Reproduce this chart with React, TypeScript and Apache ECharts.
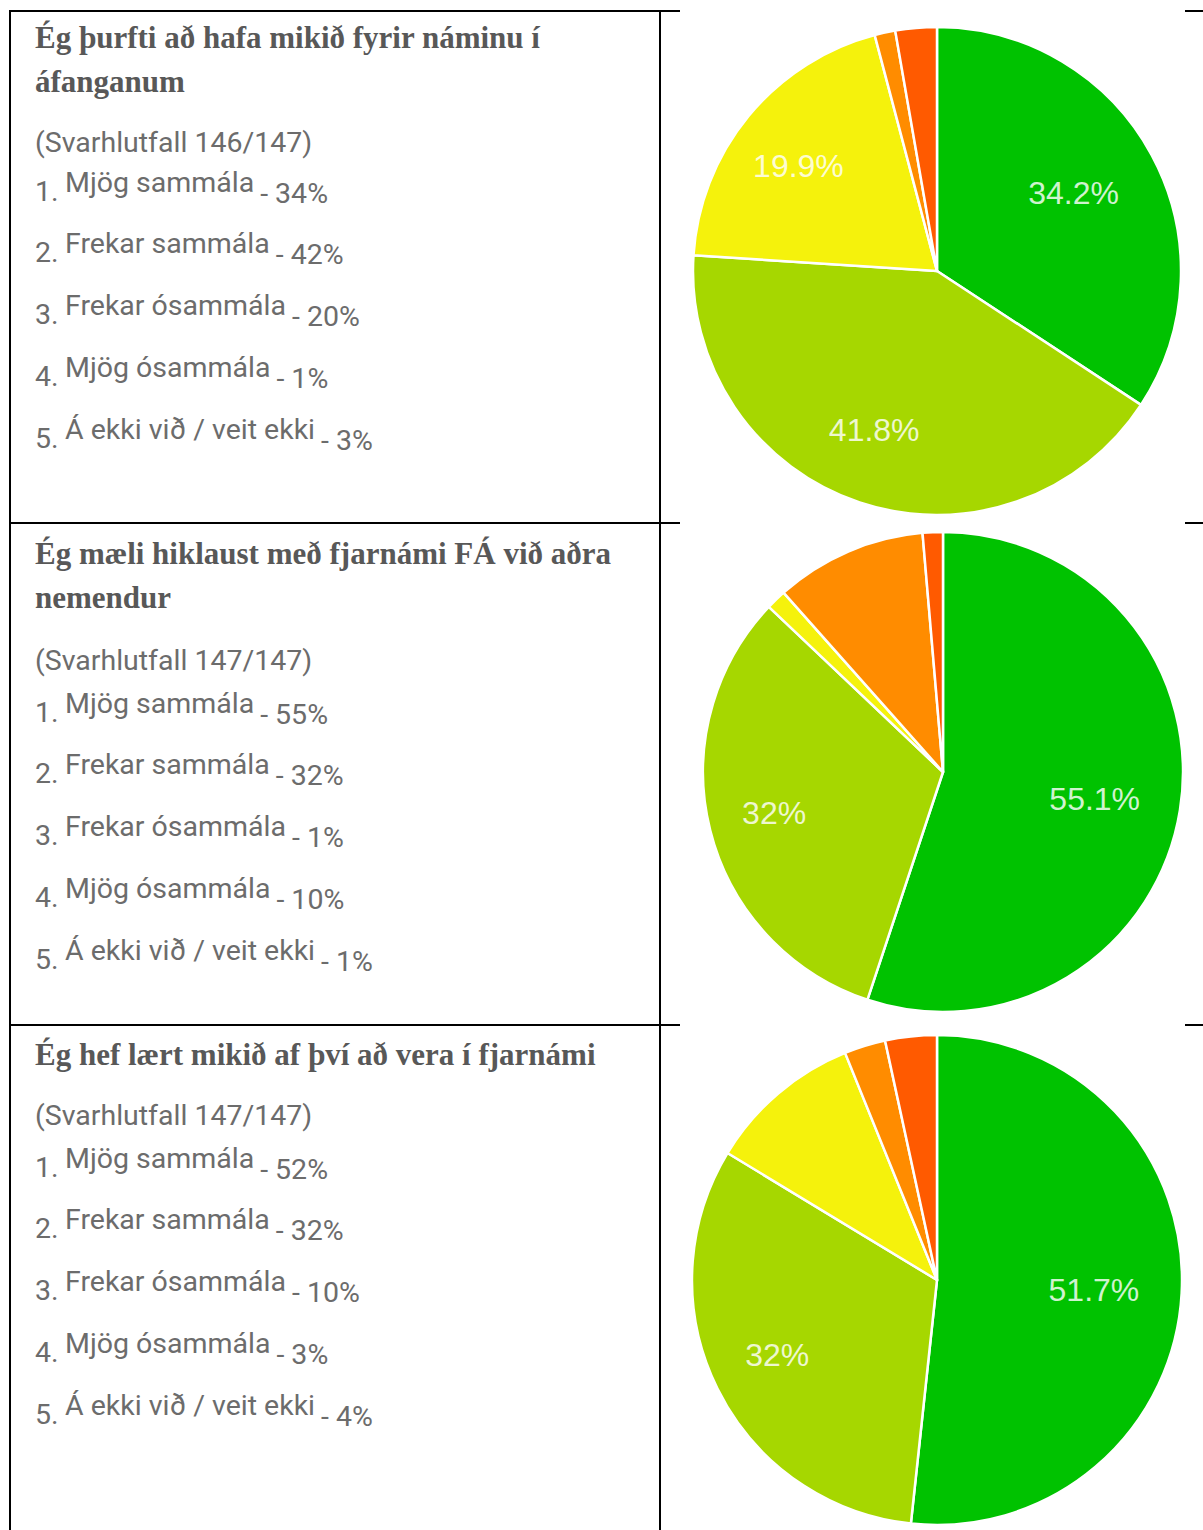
import React, { useEffect, useRef } from "react";
import * as echarts from "echarts";

// ---------- data ----------
const rowTitles: string[][] = [
  ["Ég þurfti að hafa mikið fyrir náminu í", "áfanganum"],
  ["Ég mæli hiklaust með fjarnámi FÁ við aðra", "nemendur"],
  ["Ég hef lært mikið af því að vera í fjarnámi"],
];
const responseRates = ["146/147", "147/147", "147/147"];
const answerLabels = [
  "Mjög sammála",
  "Frekar sammála",
  "Frekar ósammála",
  "Mjög ósammála",
  "Á ekki við / veit ekki",
];
const listedPercents1 = [34, 42, 20, 1, 3];
const listedPercents2 = [55, 32, 1, 10, 1];
const listedPercents3 = [52, 32, 10, 3, 4];
const answerCounts1 = [50, 61, 29, 2, 4];
const answerCounts2 = [81, 47, 2, 15, 2];
const answerCounts3 = [76, 47, 15, 4, 5];
const sliceColors = ["#00C200", "#A6D700", "#F5F20C", "#FF8C00", "#FF5A00"];

// ---------- layout ----------
const W = 1203;
const H = 1530;
const pieCenters = [
  [937, 271],
  [943, 772],
  [937, 1280],
];
const pieRadii = [244, 240, 245];
const titleY = [37, 553, 1054];
const titleLineGap = 44;
const rateY = [142, 660, 1115];
const firstItemY = [191, 712, 1167];
const itemGap = 61.9;
const textX = 35;
const labelX = 65;
const bodyFontSize = 28.5;
const bodyScaleX = 1;
const bodyFamily = "Roboto";
const bodyColor = "#6c6c6c";
const titleColor = "#585858";

function measure(text: string, font: string): number {
  const c = document.createElement("canvas");
  const ctx = c.getContext("2d");
  if (!ctx) return text.length * 12;
  ctx.font = font;
  return ctx.measureText(text).width;
}

function fmtPercent(p: number): string {
  const r = Math.round(p * 10) / 10;
  return `${r}%`;
}

export default function App() {
  const ref = useRef<HTMLDivElement>(null);

  useEffect(() => {
    document.body.style.margin = "0";
    if (!ref.current) return;
    const chart = echarts.init(ref.current, undefined, { renderer: "svg", width: W, height: H });

    const listed = [listedPercents1, listedPercents2, listedPercents3];
    const counts = [answerCounts1, answerCounts2, answerCounts3];

    const graphics: any[] = [];

    // table lines
    const lineStyle = { stroke: "#000", lineWidth: 2 };
    const hLines = [11, 523, 1025];
    hLines.forEach((y) => {
      graphics.push({ type: "line", shape: { x1: 10, y1: y, x2: 680, y2: y }, style: lineStyle });
      graphics.push({ type: "line", shape: { x1: 1185, y1: y, x2: W, y2: y }, style: lineStyle });
    });
    graphics.push({ type: "line", shape: { x1: 10, y1: 10, x2: 10, y2: H }, style: lineStyle });
    graphics.push({ type: "line", shape: { x1: 660, y1: 10, x2: 660, y2: H }, style: lineStyle });

    const bodyFont = `${bodyFontSize}px ${bodyFamily}`;
    const txt = (text: string, x: number, y: number, font: string, fill: string, sx = 1) => ({
      type: "text",
      x,
      y,
      scaleX: sx,
      style: {
        text,
        font,
        fill,
        align: "left",
        verticalAlign: "middle",
        textAlign: "left",
        textVerticalAlign: "middle",
      },
    });

    rowTitles.forEach((lines, r) => {
      lines.forEach((t, i) => {
        graphics.push(txt(t, textX, titleY[r] + i * titleLineGap, "bold 31px 'Liberation Serif'", titleColor));
      });
      graphics.push(txt(`(Svarhlutfall ${responseRates[r]})`, textX, rateY[r], bodyFont, bodyColor, bodyScaleX));
      answerLabels.forEach((lab, i) => {
        const y = firstItemY[r] + i * itemGap;
        graphics.push(txt(`${i + 1}.`, textX, y, bodyFont, bodyColor, bodyScaleX));
        graphics.push(txt(lab, labelX, y - 9, bodyFont, bodyColor, bodyScaleX));
        const lw = measure(lab, bodyFont) * bodyScaleX;
        graphics.push(txt(`- ${listed[r][i]}%`, labelX + lw + 6, y + 2, bodyFont, bodyColor, bodyScaleX));
      });
    });

    const series: any[] = [];
    counts.forEach((vals, r) => {
      const data = vals.map((v, i) => ({
        name: answerLabels[i],
        value: v,
        itemStyle: { color: sliceColors[i] },
      }));
      series.push({
        type: "pie",
        center: pieCenters[r],
        radius: [0, pieRadii[r]],
        startAngle: 90,
        clockwise: true,
        silent: true,
        label: { show: false },
        labelLine: { show: false },
        itemStyle: { borderColor: "#ffffff", borderWidth: 2.5 },
        emphasis: { disabled: true },
        data,
      });
      // transparent overlay that only carries the percentage labels
      series.push({
        type: "pie",
        center: pieCenters[r],
        radius: [pieRadii[r] * 0.34, pieRadii[r]],
        startAngle: 90,
        clockwise: true,
        silent: true,
        z: 5,
        percentPrecision: 1,
        minShowLabelAngle: 40,
        itemStyle: { color: "rgba(0,0,0,0)", borderWidth: 0 },
        label: {
          show: true,
          position: "inside",
          offset: [-10, 1],
          formatter: (p: any) => fmtPercent(p.percent),
          fontFamily: "'Liberation Sans', Arial, sans-serif",
          fontSize: 32,
          color: "rgba(255,255,255,0.82)",
        },
        labelLine: { show: false },
        emphasis: { disabled: true },
        data: vals.map((v, i) => ({ name: answerLabels[i], value: v })),
      });
    });

    chart.setOption({
      animation: false,
      backgroundColor: "#ffffff",
      series,
      graphic: { elements: graphics },
    });

    return () => chart.dispose();
  }, []);

  return (
    <div
      ref={ref}
      style={{ position: "absolute", left: 0, top: 0, width: W, height: H }}
    />
  );
}
